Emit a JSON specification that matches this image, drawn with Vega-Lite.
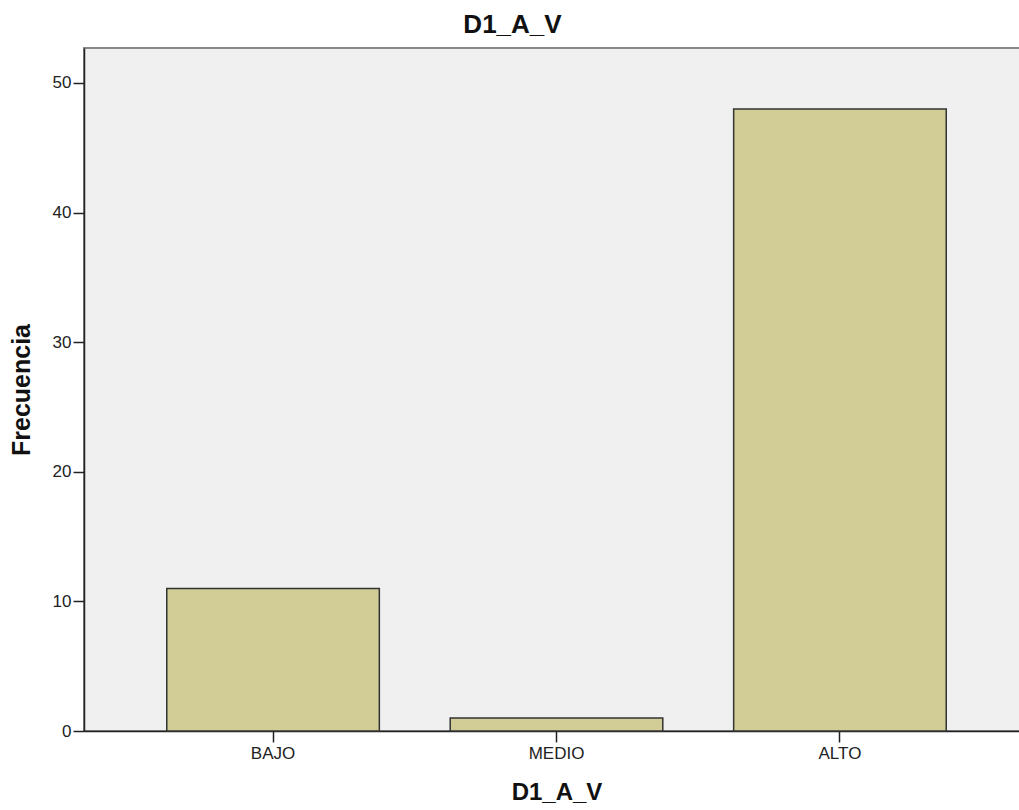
{
  "$schema": "https://vega.github.io/schema/vega-lite/v6.json",
  "autosize": {"type": "none"},
  "padding": {"left": 84, "top": 48, "right": 0, "bottom": 79},
  "width": 945,
  "height": 683,
  "background": "white",
  "title": {
    "text": "D1_A_V",
    "font": "Liberation Sans",
    "fontSize": 26,
    "fontWeight": "bold",
    "color": "#111111",
    "anchor": "middle",
    "dx": -44,
    "offset": 10
  },
  "data": {
    "values": [
      {"categoria": "BAJO", "frecuencia": 11},
      {"categoria": "MEDIO", "frecuencia": 1},
      {"categoria": "ALTO", "frecuencia": 48}
    ]
  },
  "mark": {"type": "bar", "fill": "#d2cd97", "stroke": "#333333", "strokeWidth": 1.5},
  "encoding": {
    "x": {
      "field": "categoria",
      "type": "nominal",
      "sort": ["BAJO", "MEDIO", "ALTO"],
      "scale": {"paddingInner": 0.25, "paddingOuter": 0.292},
      "axis": {
        "title": "D1_A_V",
        "labelAngle": 0,
        "labelFont": "Liberation Sans",
        "labelFontSize": 17,
        "labelColor": "#222222",
        "labelPadding": 3,
        "tickSize": 11,
        "tickColor": "#222222",
        "tickWidth": 1.5,
        "domainColor": "#222222",
        "domainWidth": 1.5,
        "titleFont": "Liberation Sans",
        "titleFontSize": 24,
        "titleFontWeight": "bold",
        "titleColor": "#111111",
        "titlePadding": 19
      }
    },
    "y": {
      "field": "frecuencia",
      "type": "quantitative",
      "scale": {"domain": [0, 52.7], "nice": false},
      "axis": {
        "title": "Frecuencia",
        "values": [0, 10, 20, 30, 40, 50],
        "grid": false,
        "labelFont": "Liberation Sans",
        "labelFontSize": 17,
        "labelColor": "#222222",
        "labelPadding": 2,
        "tickSize": 11,
        "tickColor": "#222222",
        "tickWidth": 1.5,
        "domainColor": "#222222",
        "domainWidth": 1.5,
        "titleFont": "Liberation Sans",
        "titleFontSize": 25,
        "titleFontWeight": "bold",
        "titleColor": "#111111",
        "titlePadding": 18
      }
    }
  },
  "config": {
    "view": {"fill": "#f0f0f0", "stroke": "#888888", "strokeWidth": 2}
  }
}
